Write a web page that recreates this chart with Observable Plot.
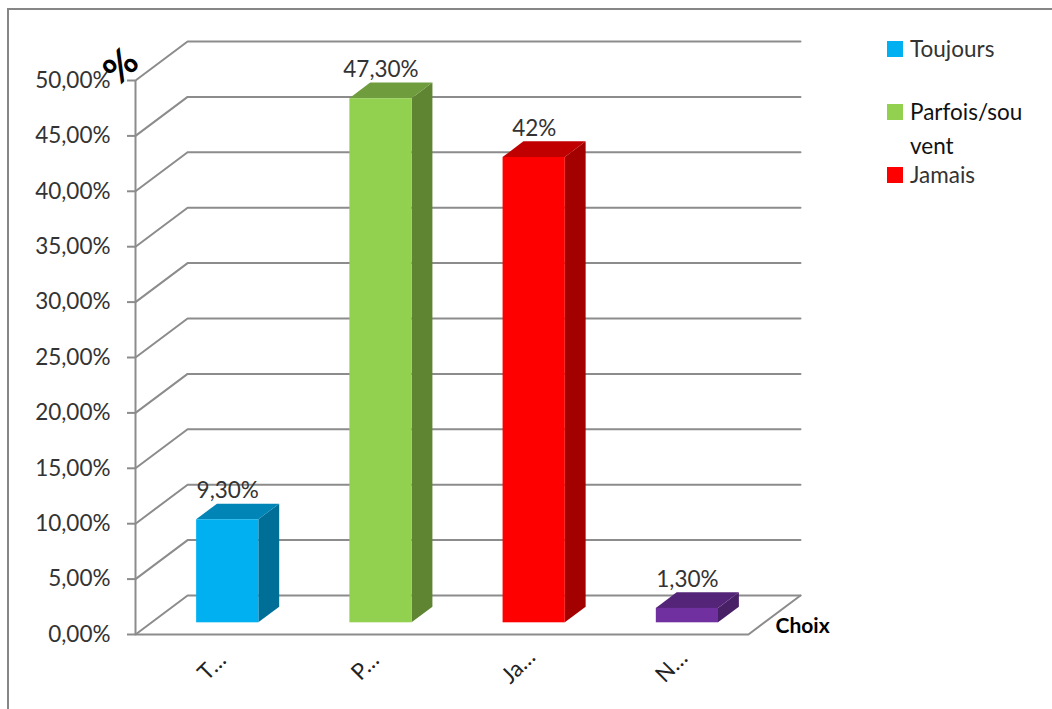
<!DOCTYPE html>
<html lang="fr">
<head>
<meta charset="utf-8">
<title>Choix</title>
<script src="https://cdn.jsdelivr.net/npm/d3@7"></script>
<script src="https://cdn.jsdelivr.net/npm/@observablehq/plot@0.6"></script>
<style>
  html, body { margin: 0; padding: 0; background: #fff; overflow: hidden; }
  #chart { position: relative; width: 1052px; height: 709px; font-family: Lato, sans-serif; }
  #chart svg { position: absolute; left: 0; top: 0; }
  .border { position: absolute; left: 7px; top: 8px; right: -4px; bottom: -4px;
            border: 2px solid #868686; }
  .legend-item { position: absolute; left: 887px; display: flex; align-items: flex-start;
                 color: #333; font-size: 22.5px; line-height: 34px; white-space: pre-line; }
  .legend-item i { display: block; width: 16px; height: 16px; margin: 9px 7px 0 0; flex: none; }
  .legend-item:nth-of-type(2) { top: 32px; }
  .legend-item:nth-of-type(3) { top: 95px; color: #111; }
  .legend-item:nth-of-type(4) { top: 158px; }
</style>
</head>
<body>
<div id="chart"><div class="border"></div></div>
<script>
// Answers per category, in percent
const categories = ["Toujours", "Parfois/souvent", "Jamais", "NSP"];
const shortLabels = ["T…", "P…", "Ja…", "N…"];
const values = [9.3, 47.3, 42, 1.3];
const legendLabels = ["Toujours", "Parfois/sou\nvent", "Jamais"];
const frontColors = ["#00b0f0", "#92d050", "#ff0000", "#7030a0"];
const sideColors = ["#006f98", "#5f8432", "#a30000", "#472066"];
const topColors = ["#0085b6", "#6f9c3c", "#c00000", "#542478"];
const yTicks = [0, 5, 10, 15, 20, 25, 30, 35, 40, 45, 50];

// Oblique projection: depth z (0 front, 1 back) slides a point right and up
const DEPTH_X = 0.34;
const DEPTH_Y = 3.52;
const SLOTS = categories.length;
const HALF_BAR = 0.203;
const Z_FRONT = 0.3;
const Z_BACK = 0.7;
const px = (x, z) => x + z * DEPTH_X;
const py = (y, z) => y + z * DEPTH_Y;

const bars = values.map((value, i) => ({
  i, value, center: i + 0.5, left: i + 0.5 - HALF_BAR, right: i + 0.5 + HALF_BAR
}));

// Wall lines: up the side wall, then along the back wall
const gridPoints = yTicks.flatMap((v) => [
  {v, x: px(0, 0), y: py(v, 0)},
  {v, x: px(0, 1), y: py(v, 1)},
  {v, x: px(SLOTS, 1), y: py(v, 1)}
]);
const floorPoints = [
  {x: px(0, 0), y: py(0, 0)},
  {x: px(SLOTS, 0), y: py(0, 0)},
  {x: px(SLOTS, 1), y: py(0, 1)}
];

const sidePoints = bars.flatMap((b) => [Z_FRONT, Z_BACK].map((z) => ({
  i: b.i, x: px(b.right, z), y1: py(0, z), y2: py(b.value, z)
})));
const topPoints = bars.flatMap((b) => [Z_FRONT, Z_BACK].map((z) => ({
  i: b.i, y: py(b.value, z), x1: px(b.left, z), x2: px(b.right, z)
})));

const percent = (v) =>
  (Number.isInteger(v) && values.includes(v) ? String(v) : v.toFixed(2).replace(".", ",")) + "%";

const GRAY = "#8c8c8c";
const TEXT = "#333";

const plot = Plot.plot({
  width: 1052,
  height: 709,
  marginLeft: 135,
  marginRight: 252,
  marginTop: 41,
  marginBottom: 75,
  x: {domain: [0, SLOTS + DEPTH_X], axis: null},
  y: {domain: [0, 50 + DEPTH_Y], axis: null},
  style: {fontFamily: "Lato, sans-serif", background: "transparent", overflow: "visible"},
  marks: [
    Plot.line(gridPoints, {x: "x", y: "y", z: "v", stroke: GRAY, strokeWidth: 2, strokeLinejoin: "miter"}),
    Plot.line(floorPoints, {x: "x", y: "y", stroke: GRAY, strokeWidth: 2, strokeLinejoin: "miter"}),
    Plot.ruleX([0], {y1: 0, y2: 50, stroke: GRAY, strokeWidth: 2}),
    Plot.axisY({
      ticks: yTicks,
      tickFormat: (d) => d.toFixed(2).replace(".", ",") + "%",
      tickSize: 8,
      tickPadding: 17,
      stroke: GRAY,
      strokeWidth: 2,
      fill: TEXT,
      fontSize: 22.5,
      label: null
    }),
    // Bar faces, back to front
    Plot.areaY(sidePoints, {x: "x", y1: "y1", y2: "y2", z: "i", fill: (d) => sideColors[d.i]}),
    Plot.areaX(topPoints, {y: "y", x1: "x1", x2: "x2", z: "i", fill: (d) => topColors[d.i]}),
    Plot.rect(bars, {
      x1: (d) => px(d.left, Z_FRONT),
      x2: (d) => px(d.right, Z_FRONT),
      y1: py(0, Z_FRONT),
      y2: (d) => py(d.value, Z_FRONT),
      fill: (d) => frontColors[d.i]
    }),
    // Value labels over each bar
    Plot.text(bars, {
      x: (d) => px(d.center, Z_FRONT),
      y: (d) => py(d.value, Z_BACK),
      dy: -13,
      text: (d) => percent(d.value),
      fill: TEXT,
      fontSize: 22.5
    }),
    // Truncated category labels
    Plot.text(bars, {
      x: "center",
      y: 0,
      dy: 32,
      text: (d) => shortLabels[d.i],
      rotate: -45,
      fill: "#222",
      fontSize: 22.5
    }),
    // Axis titles
    Plot.text(["%"], {
      x: 0,
      y: 50 + DEPTH_Y / 2,
      dx: -14,
      dy: 6,
      rotate: -45,
      fill: "#000",
      fontSize: 38,
      fontWeight: "bold"
    }),
    Plot.text(["Choix"], {
      x: SLOTS + DEPTH_X,
      y: 0,
      dx: -25,
      dy: -8,
      textAnchor: "start",
      fill: "#000",
      fontSize: 21,
      fontWeight: "bold"
    })
  ]
});

const chart = document.getElementById("chart");
chart.appendChild(plot);

// Legend beside the plot area
legendLabels.forEach((label, i) => {
  const item = document.createElement("div");
  item.className = "legend-item";
  const swatch = document.createElement("i");
  swatch.style.background = frontColors[i];
  const text = document.createElement("span");
  text.textContent = label;
  item.append(swatch, text);
  chart.appendChild(item);
});
</script>
</body>
</html>
